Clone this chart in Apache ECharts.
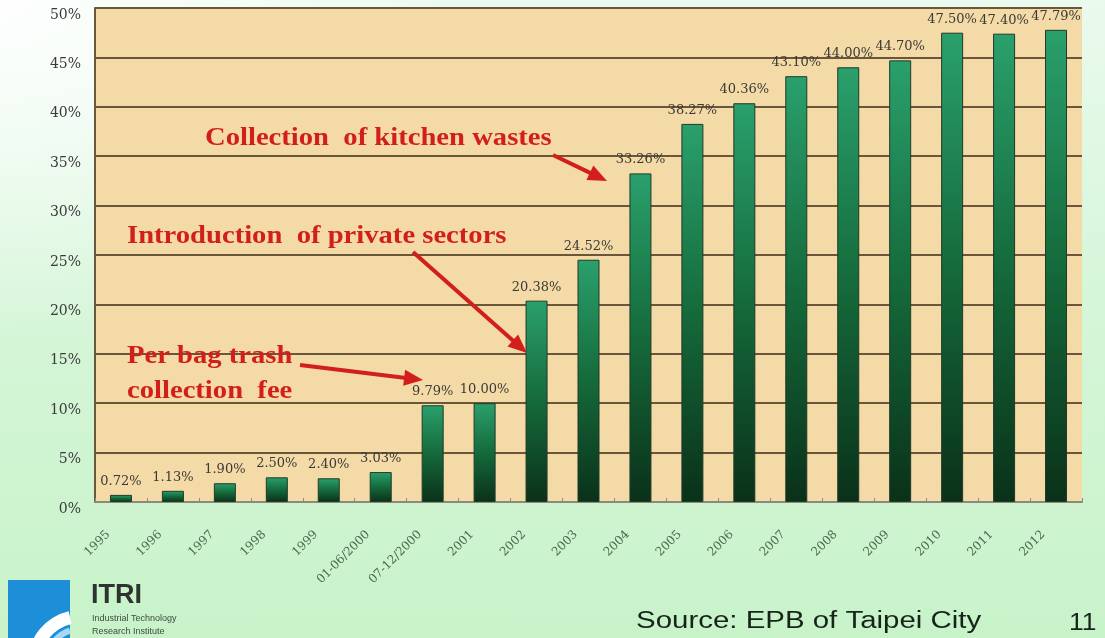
<!DOCTYPE html>
<html>
<head>
<meta charset="utf-8">
<script src="https://cdn.jsdelivr.net/npm/echarts@6/dist/echarts.min.js"></script>
<style>
  html, body { margin: 0; padding: 0; }
  body {
    width: 1105px; height: 638px; overflow: hidden;
    background:
      radial-gradient(ellipse 620px 460px at 0 0, rgba(255,255,255,0.95), rgba(255,255,255,0) 75%),
      linear-gradient(180deg, #eafaee 0%, #d6f6d9 45%, #c8f3c9 100%);
  }
  #chart { width: 1105px; height: 638px; }
</style>
</head>
<body>
<div id="chart"></div>
<script>
// Taipei City recycling rate by year
const categories = ['1995', '1996', '1997', '1998', '1999', '01-06/2000', '07-12/2000',
  '2001', '2002', '2003', '2004', '2005', '2006', '2007', '2008', '2009', '2010', '2011', '2012'];
const recyclingRates = [0.72, 1.13, 1.90, 2.50, 2.40, 3.03, 9.79,
  10.00, 20.38, 24.52, 33.26, 38.27, 40.36, 43.10, 44.00, 44.70, 47.50, 47.40, 47.79];
const yMax = 50;
const yStep = 5;

// Policy milestones written over the plot
const milestones = [
  { lines: ['Collection  of kitchen wastes'], x: 205, y: 139, tail: [553, 155], tip: [607, 181] },
  { lines: ['Introduction  of private sectors'], x: 127, y: 237, tail: [413, 252], tip: [527, 353] },
  { lines: ['Per bag trash', 'collection  fee'], x: 127, y: 357, tail: [300, 365], tip: [423, 380] }
];

const RED = '#d21f1b';

function arrow(tail, tip) {
  const dx = tip[0] - tail[0], dy = tip[1] - tail[1];
  const len = Math.hypot(dx, dy);
  const ux = dx / len, uy = dy / len;
  const headLen = 19, headHalf = 8;
  const bx = tip[0] - ux * headLen, by = tip[1] - uy * headLen;
  return [
    { type: 'line', shape: { x1: tail[0], y1: tail[1], x2: bx + ux * 2, y2: by + uy * 2 },
      style: { stroke: RED, lineWidth: 4 } },
    { type: 'polygon', shape: { points: [
        [tip[0], tip[1]],
        [bx - uy * headHalf, by + ux * headHalf],
        [bx + uy * headHalf, by - ux * headHalf]
      ] }, style: { fill: RED } }
  ];
}

const graphics = [];
milestones.forEach(m => {
  m.lines.forEach((t, i) => {
    graphics.push({
      type: 'text', x: m.x, y: m.y + i * 35, scaleX: 1.145,
      style: { text: t, font: 'bold 25px "Liberation Serif", serif', fill: RED, verticalAlign: 'middle' },
      z: 10
    });
  });
  arrow(m.tail, m.tip).forEach(g => { g.z = 10; graphics.push(g); });
});

// ITRI logo block and slide footer
graphics.push(
  { type: 'rect', shape: { x: 8, y: 580, width: 62, height: 58 }, style: { fill: '#1d8fd9' } },
  { type: 'sector', shape: { cx: 80, cy: 662, r: 52, r0: 39, startAngle: Math.PI, endAngle: Math.PI * 1.43 },
    style: { fill: '#ffffff' } },
  { type: 'sector', shape: { cx: 80, cy: 662, r: 36, r0: 30, startAngle: Math.PI * 1.05, endAngle: Math.PI * 1.4 },
    style: { fill: '#a9d8f4' } },
  { type: 'text', x: 91, y: 582, style: { text: 'ITRI', font: 'bold 27px "Liberation Sans", Arial, sans-serif', fill: '#2e3330' } },
  { type: 'text', x: 92, y: 614, style: { text: 'Industrial Technology', font: '9px "Liberation Sans", Arial, sans-serif', fill: '#3b4a3e' } },
  { type: 'text', x: 92, y: 627, style: { text: 'Research Institute', font: '9px "Liberation Sans", Arial, sans-serif', fill: '#3b4a3e' } },
  { type: 'text', x: 636, y: 622, scaleX: 1.28,
    style: { text: 'Source: EPB of Taipei City', font: '23px "Liberation Sans", Arial, sans-serif', fill: '#17241a', verticalAlign: 'middle' } },
  { type: 'text', x: 1069, y: 624, scaleX: 1.15,
    style: { text: '11', font: '23px "Liberation Sans", Arial, sans-serif', fill: '#17241a', verticalAlign: 'middle' } }
);

const chart = echarts.init(document.getElementById('chart'), null, { renderer: 'canvas' });
chart.setOption({
  backgroundColor: 'transparent',
  animation: false,
  grid: {
    left: 95, right: 23, top: 8, bottom: 136,
    show: true, backgroundColor: '#f4daa6', borderWidth: 0
  },
  xAxis: {
    type: 'category',
    data: categories,
    axisLine: { show: true, lineStyle: { color: '#8c8a7c', width: 2 } },
    axisTick: { show: true, inside: true, length: 4, lineStyle: { color: '#8c8a7c' } },
    axisLabel: {
      rotate: 45, interval: 0, margin: 18,
      padding: [0, 18, 0, 0],
      fontFamily: '"DejaVu Serif", serif', fontSize: 12, color: '#4c6a52'
    }
  },
  yAxis: {
    type: 'value',
    min: 0, max: yMax, interval: yStep,
    axisLine: { show: true, lineStyle: { color: '#6b573a', width: 2 } },
    axisTick: { show: false },
    splitLine: { show: true, lineStyle: { color: '#6a563a', width: 2 } },
    axisLabel: {
      formatter: '{value}%', margin: 14,
      verticalAlign: 'top',
      fontFamily: '"DejaVu Serif", serif', fontSize: 14, color: '#3a3a3a'
    }
  },
  series: [{
    type: 'bar',
    data: recyclingRates,
    barWidth: 22,
    itemStyle: {
      color: new echarts.graphic.LinearGradient(0, 0, 0, 1, [
        { offset: 0, color: '#2aa06c' },
        { offset: 0.5, color: '#156a3b' },
        { offset: 1, color: '#0a3119' }
      ]),
      borderColor: '#213a28',
      borderWidth: 1
    },
    label: {
      show: true, position: 'top', distance: 7,
      formatter: p => p.value.toFixed(2) + '%',
      fontFamily: '"DejaVu Serif", serif', fontSize: 13, color: '#3a3a36'
    }
  }],
  graphic: graphics
});
</script>
</body>
</html>
